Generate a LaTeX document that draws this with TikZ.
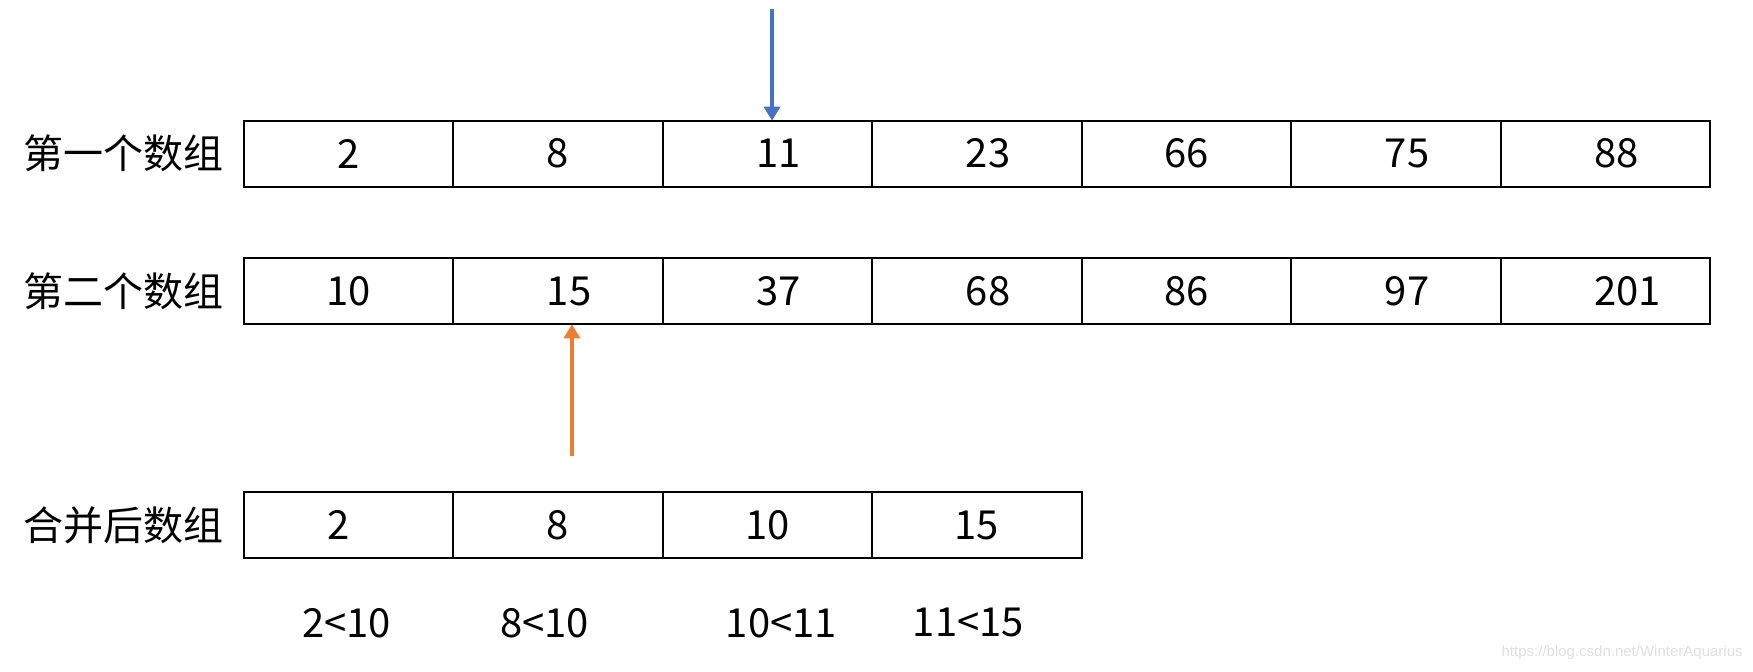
\documentclass[tikz,border=0pt]{standalone}
\usepackage{fontspec}
\setmainfont{Noto Sans CJK SC}
\newfontfamily\markfont{Liberation Sans}
\usetikzlibrary{positioning,arrows.meta}
\definecolor{ptrblue}{HTML}{4472C4}
\definecolor{ptrorange}{HTML}{ED7D31}
\tikzset{
  cell/.style={draw, line width=1.1pt, minimum width=104.75pt, minimum height=33pt,
    inner sep=0pt, outer sep=0pt, font=\fontsize{20}{24}\selectfont},
  rowname/.style={inner sep=0pt, font=\fontsize{20}{24}\selectfont},
  cmp/.style={inner sep=0pt, font=\fontsize{20}{24}\selectfont},
  pointer/.style={line width=2pt, -{Triangle[width=8pt,length=7pt]}},
}
\begin{document}
\begin{tikzpicture}
    \useasboundingbox (0,0) rectangle (876.5pt,-335.5pt);

    % first array
    \node[cell] (a1) at (174.225pt,-76.85pt) {2};
    \node[cell] (a2) [right = 0pt,at=(a1.east)] {8};
    \node[cell] (a3) [right = 0pt,at=(a2.east)] {\hspace*{11.2pt}11};
    \node[cell] (a4) [right = 0pt,at=(a3.east)] {\hspace*{11.2pt}23};
    \node[cell] (a5) [right = 0pt,at=(a4.east)] {66};
    \node[cell] (a6) [right = 0pt,at=(a5.east)] {\hspace*{11.2pt}75};
    \node[cell] (a7) [right = 0pt,at=(a6.east)] {\hspace*{11.2pt}88};
    \node[rowname] (la) [left = 10pt,at=(a1.west)] {第一个数组};

    % second array
    \node[cell] (b1) [below = 35.8pt,at=(a1.south)] {10};
    \node[cell] (b2) [right = 0pt,at=(b1.east)] {\hspace*{11.2pt}15};
    \node[cell] (b3) [right = 0pt,at=(b2.east)] {\hspace*{11.2pt}37};
    \node[cell] (b4) [right = 0pt,at=(b3.east)] {\hspace*{11.2pt}68};
    \node[cell] (b5) [right = 0pt,at=(b4.east)] {86};
    \node[cell] (b6) [right = 0pt,at=(b5.east)] {\hspace*{11.2pt}97};
    \node[cell] (b7) [right = 0pt,at=(b6.east)] {\hspace*{22.4pt}201};
    \node[rowname] (lb) [left = 10pt,at=(b1.west)] {第二个数组};

    % merged array
    \node[cell] (m1) [below = 83.85pt,at=(b1.south)] {2\hspace*{10pt}};
    \node[cell] (m2) [right = 0pt,at=(m1.east)] {8};
    \node[cell] (m3) [right = 0pt,at=(m2.east)] {10};
    \node[cell] (m4) [right = 0pt,at=(m3.east)] {15};
    \node[rowname] (lm) [left = 10pt,at=(m1.west)] {合并后数组};

    % comparisons
    \node[cmp] (c1) [below = 25pt,at=(m1.south), xshift=-1pt] {2<10};
    \node[cmp] (c2) [below = 25pt,at=(m2.south), xshift=-6.7pt] {8<10};
    \node[cmp] (c3) [below = 25pt,at=(m3.south), xshift=7pt] {10<11};
    \node[cmp] (c4) [below = 25pt,at=(m4.south), xshift=-4.3pt] {11<15};

    % pointers
    \coordinate (ptrA) at ([xshift=2.3pt,yshift=55.9pt]a3.north);
    \coordinate (ptrB) at ([xshift=7pt,yshift=-65.95pt]b2.south);
    \draw[pointer,ptrblue] (ptrA) -- (ptrA |- a3.north);
    \draw[pointer,ptrorange] (ptrB) -- (ptrB |- b2.south);

    \node[font=\markfont\fontsize{7.5}{9}\selectfont, text=gray!25, anchor=east, inner sep=0pt]
      (mark) at (871.5pt,-326.35pt) {https://blog.csdn.net/WinterAquarius};
\end{tikzpicture}
\end{document}
